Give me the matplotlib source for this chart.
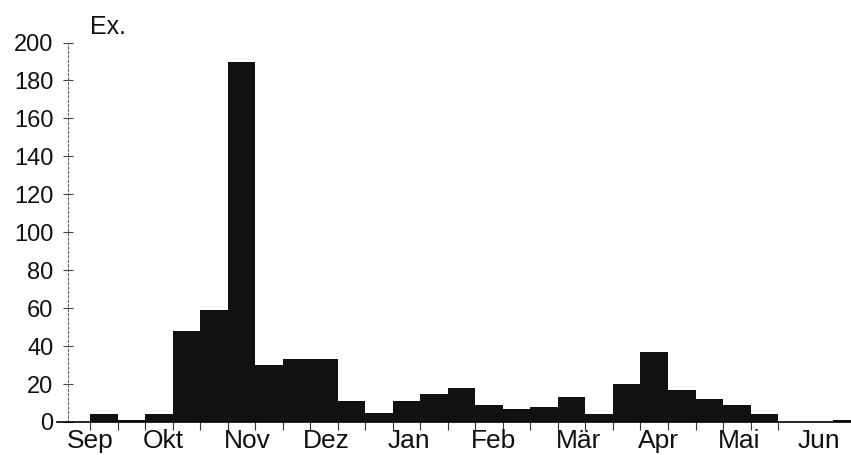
import matplotlib
matplotlib.use('Agg')
import matplotlib.pyplot as plt

plt.rcParams['font.family'] = ['Liberation Sans', 'DejaVu Sans']

# Anzahl Ex. je Dekade, ab 3. Septemberdekade bis 3. Junidekade
counts = [4, 1, 4, 48, 59, 190, 30, 33, 33, 11, 5, 11, 15, 18, 9, 7,
          8, 13, 4, 20, 37, 17, 12, 9, 4, 0, 0, 1]
months = ['Sep', 'Okt', 'Nov', 'Dez', 'Jan', 'Feb', 'Mär', 'Apr', 'Mai', 'Jun']
month_pos = [0.0, 2.65, 5.7, 8.6, 11.6, 14.65, 17.75, 20.65, 23.6, 26.5]
yticks = list(range(0, 201, 20))

fig = plt.figure(figsize=(8.51, 4.55), dpi=100)
ax = fig.add_axes([57 / 851, 33 / 455, 1 - 57 / 851, 0.834])

ax.bar(range(len(counts)), counts, width=1.0, align='edge', color='#111111',
       edgecolor='none')

ax.set_xlim(-1.2, 27.65)
ax.set_ylim(0, 200)

for s in ['top', 'right']:
    ax.spines[s].set_visible(False)
ax.spines['bottom'].set_linewidth(1.2)
ax.spines['left'].set_position(('data', -0.8))
ax.spines['left'].set_linestyle((0, (2, 2)))
ax.spines['left'].set_color('#666666')
ax.spines['left'].set_linewidth(0.8)

# kleine Striche an den Dekadengrenzen
ax.set_xticks(range(0, 26))
ax.set_xticklabels([])
ax.tick_params(axis='x', direction='out', length=6, width=0.8, color='#333333')

ax.set_yticks(yticks)
ax.set_yticklabels([str(v) for v in yticks])
ax.tick_params(axis='y', direction='inout', length=7, width=0.8, color='#444444',
               labelsize=17, pad=7, labelcolor='#111111')

for name, x in zip(months, month_pos):
    ax.annotate(name, (x, 0), xycoords=('data', 'axes fraction'),
                xytext=(0, -5), textcoords='offset points',
                ha='center', va='top', fontsize=19, color='#111111',
                annotation_clip=False)

ax.text(0, 208, 'Ex.', fontsize=18, ha='left', va='center', clip_on=False,
        color='#111111')

fig.savefig('out.png', dpi=100)
